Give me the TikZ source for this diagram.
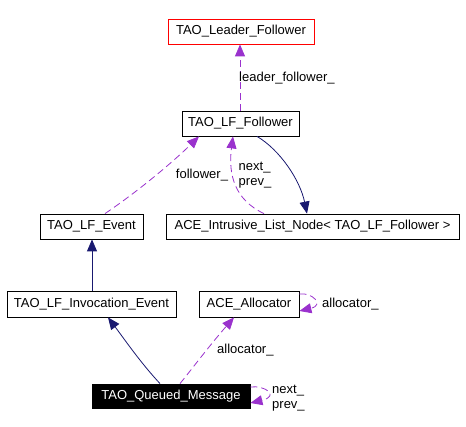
\documentclass[tikz,border=0pt]{standalone}
\usepackage{fontspec}
\setmainfont{Liberation Sans}
\usetikzlibrary{arrows.meta}
\definecolor{inh}{HTML}{191970}
\definecolor{usage}{HTML}{9A32CD}
\begin{document}
\begin{tikzpicture}[x=1pt,y=-1pt,
  box/.style={draw=black,line width=0.8pt,rectangle,inner sep=0pt,font=\fontsize{13}{15}\selectfont},
  inhline/.style={draw=inh,line width=0.8pt,-{Triangle[length=12pt,width=10pt]}},
  useline/.style={draw=usage,line width=0.8pt,dash pattern=on 7pt off 4pt,-{Triangle[length=12pt,width=10pt]}},
  lbl/.style={font=\fontsize{13}{15}\selectfont,inner sep=0pt,align=left}]
\useasboundingbox (0,0) rectangle (466,427);
\node[box,draw=red,minimum width=146pt,minimum height=25pt] (leader) at (241,31.5) {TAO\_Leader\_Follower};
\node[box,minimum width=117pt,minimum height=25pt] (follower) at (240.5,123.5) {TAO\_LF\_Follower};
\node[box,minimum width=293pt,minimum height=25pt] (listnode) at (312.5,226.5) {ACE\_Intrusive\_List\_Node< TAO\_LF\_Follower >};
\node[box,minimum width=103pt,minimum height=25pt] (event) at (91.5,226.5) {TAO\_LF\_Event};
\node[box,minimum width=169pt,minimum height=26pt] (inv) at (91.5,304) {TAO\_LF\_Invocation\_Event};
\node[box,minimum width=100pt,minimum height=26pt] (alloc) at (249,304) {ACE\_Allocator};
\node[box,fill=black,text=white,minimum width=158pt,minimum height=24pt] (queued) at (171,396) {TAO\_Queued\_Message};

% leader_follower_
\draw[useline] (follower.north -| 240,0) -- (leader.south -| 240,0);
\node[lbl,anchor=west] (llf) at (239,78) {leader\_follower\_};

% follower_
\draw[useline] (event.north -| 105,0) .. controls (140,190) and (175,160) .. (follower.south -| 199,0);
\node[lbl] (lfol) at (202,175) {follower\_};

% next_ prev_ (list node -> follower)
\draw[useline] (listnode.north -| 264,0) .. controls (235,200) and (228,175) .. (follower.south -| 233,0);
\node[lbl] (lnp) at (255,175) {next\_\\prev\_};

% inheritance follower -> list node
\draw[inhline] (follower.south -| 257,0) .. controls (280,150) and (300,180) .. (listnode.north -| 307,0);

% inv -> event
\draw[inhline] (inv.north -| 92,0) -- (event.south -| 92,0);

% queued -> inv
\draw[inhline] (queued.north -| 160,0) .. controls (140,362) and (125,340) .. (inv.south -| 108,0);

% allocator_
\draw[useline] (queued.north -| 180,0) .. controls (195,365) and (210,345) .. (alloc.south -| 234,0);
\node[lbl,anchor=west] (lal) at (217,350) {allocator\_};

% allocator self loop
\coordinate (as) at (alloc.east |- 0,294);
\coordinate (ae) at (alloc.east |- 0,311);
\draw[useline] (as) .. controls (312,292) and (325,305) .. (ae);
\node[lbl,anchor=west] (lal2) at (322,304) {allocator\_};

% queued self loop
\coordinate (qs) at (queued.east |- 0,387);
\coordinate (qe) at (queued.east |- 0,403);
\draw[useline] (qs) .. controls (265,385) and (280,396) .. (qe);
\node[lbl,anchor=west] (lq) at (272,398) {next\_\\prev\_};
\end{tikzpicture}
\end{document}
